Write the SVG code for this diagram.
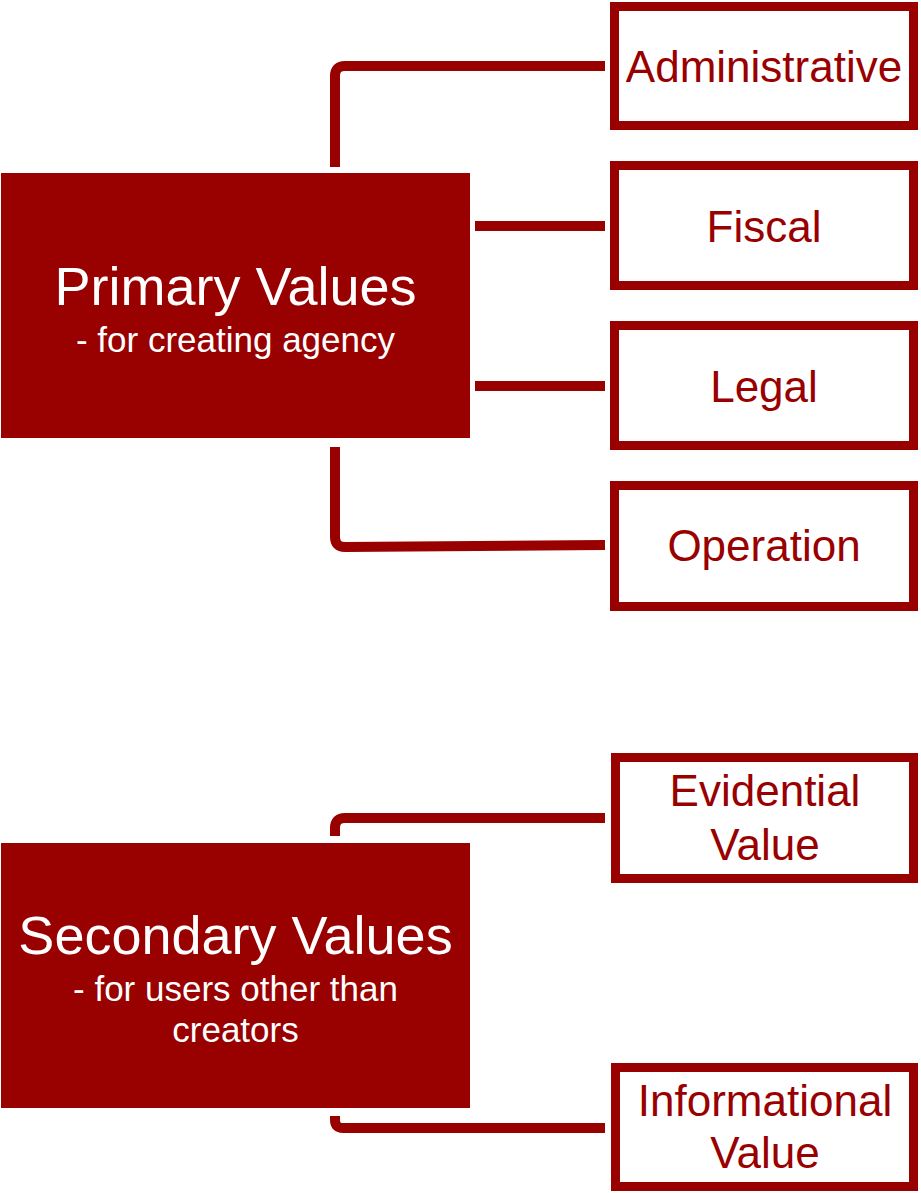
<svg xmlns="http://www.w3.org/2000/svg" width="921" height="1193" viewBox="0 0 921 1193">
  <style>
    .main { fill: #990000; }
    .leaf { fill: #ffffff; stroke: #990000; stroke-width: 9; }
    .conn { fill: none; stroke: #990000; stroke-width: 10; stroke-linecap: butt; stroke-linejoin: round; }
    text { font-family: "Liberation Sans", Arial, sans-serif; text-anchor: middle; }
    .title { fill: #ffffff; font-size: 54px; }
    .sub { fill: #ffffff; font-size: 35px; }
    .leafText { fill: #990000; font-size: 44px; }
  </style>
  <rect width="921" height="1193" fill="#ffffff"/>
  <g id="connectors">
    <path class="conn" d="M335,167 V76 Q335,66 345,66 H605"/>
    <path class="conn" d="M475,226 H605"/>
    <path class="conn" d="M475,386 H605"/>
    <path class="conn" d="M335,447 V537 Q335,547 345,547 L605,545"/>
    <path class="conn" d="M335,836 V828 Q335,818 345,818 H605"/>
    <path class="conn" d="M335,1116 V1120 Q335,1128 343,1128 H605"/>
  </g>
  <g id="primary">
    <rect class="main" x="1" y="173" width="469" height="265"/>
    <text class="title" x="235.5" y="305">Primary Values</text>
    <text class="sub" x="235.5" y="352">- for creating agency</text>
  </g>
  <g id="secondary">
    <rect class="main" x="1" y="843" width="469" height="265"/>
    <text class="title" x="235.5" y="954">Secondary Values</text>
    <text class="sub" x="235.5" y="1001">- for users other than</text>
    <text class="sub" x="235.5" y="1042">creators</text>
  </g>
  <g id="administrative">
    <rect class="leaf" x="614.5" y="6.5" width="299" height="119"/>
    <text class="leafText" x="764" y="82">Administrative</text>
  </g>
  <g id="fiscal">
    <rect class="leaf" x="614.5" y="165.5" width="299" height="120"/>
    <text class="leafText" x="764" y="242">Fiscal</text>
  </g>
  <g id="legal">
    <rect class="leaf" x="614.5" y="325.5" width="299" height="120"/>
    <text class="leafText" x="764" y="402">Legal</text>
  </g>
  <g id="operation">
    <rect class="leaf" x="614.5" y="485.5" width="299" height="121"/>
    <text class="leafText" x="764" y="561">Operation</text>
  </g>
  <g id="evidential">
    <rect class="leaf" x="615.5" y="757.5" width="298" height="121"/>
    <text class="leafText" x="765" y="806">Evidential</text>
    <text class="leafText" x="765" y="860">Value</text>
  </g>
  <g id="informational">
    <rect class="leaf" x="615.5" y="1067.5" width="298" height="119"/>
    <text class="leafText" x="765" y="1116">Informational</text>
    <text class="leafText" x="765" y="1168">Value</text>
  </g>
</svg>
